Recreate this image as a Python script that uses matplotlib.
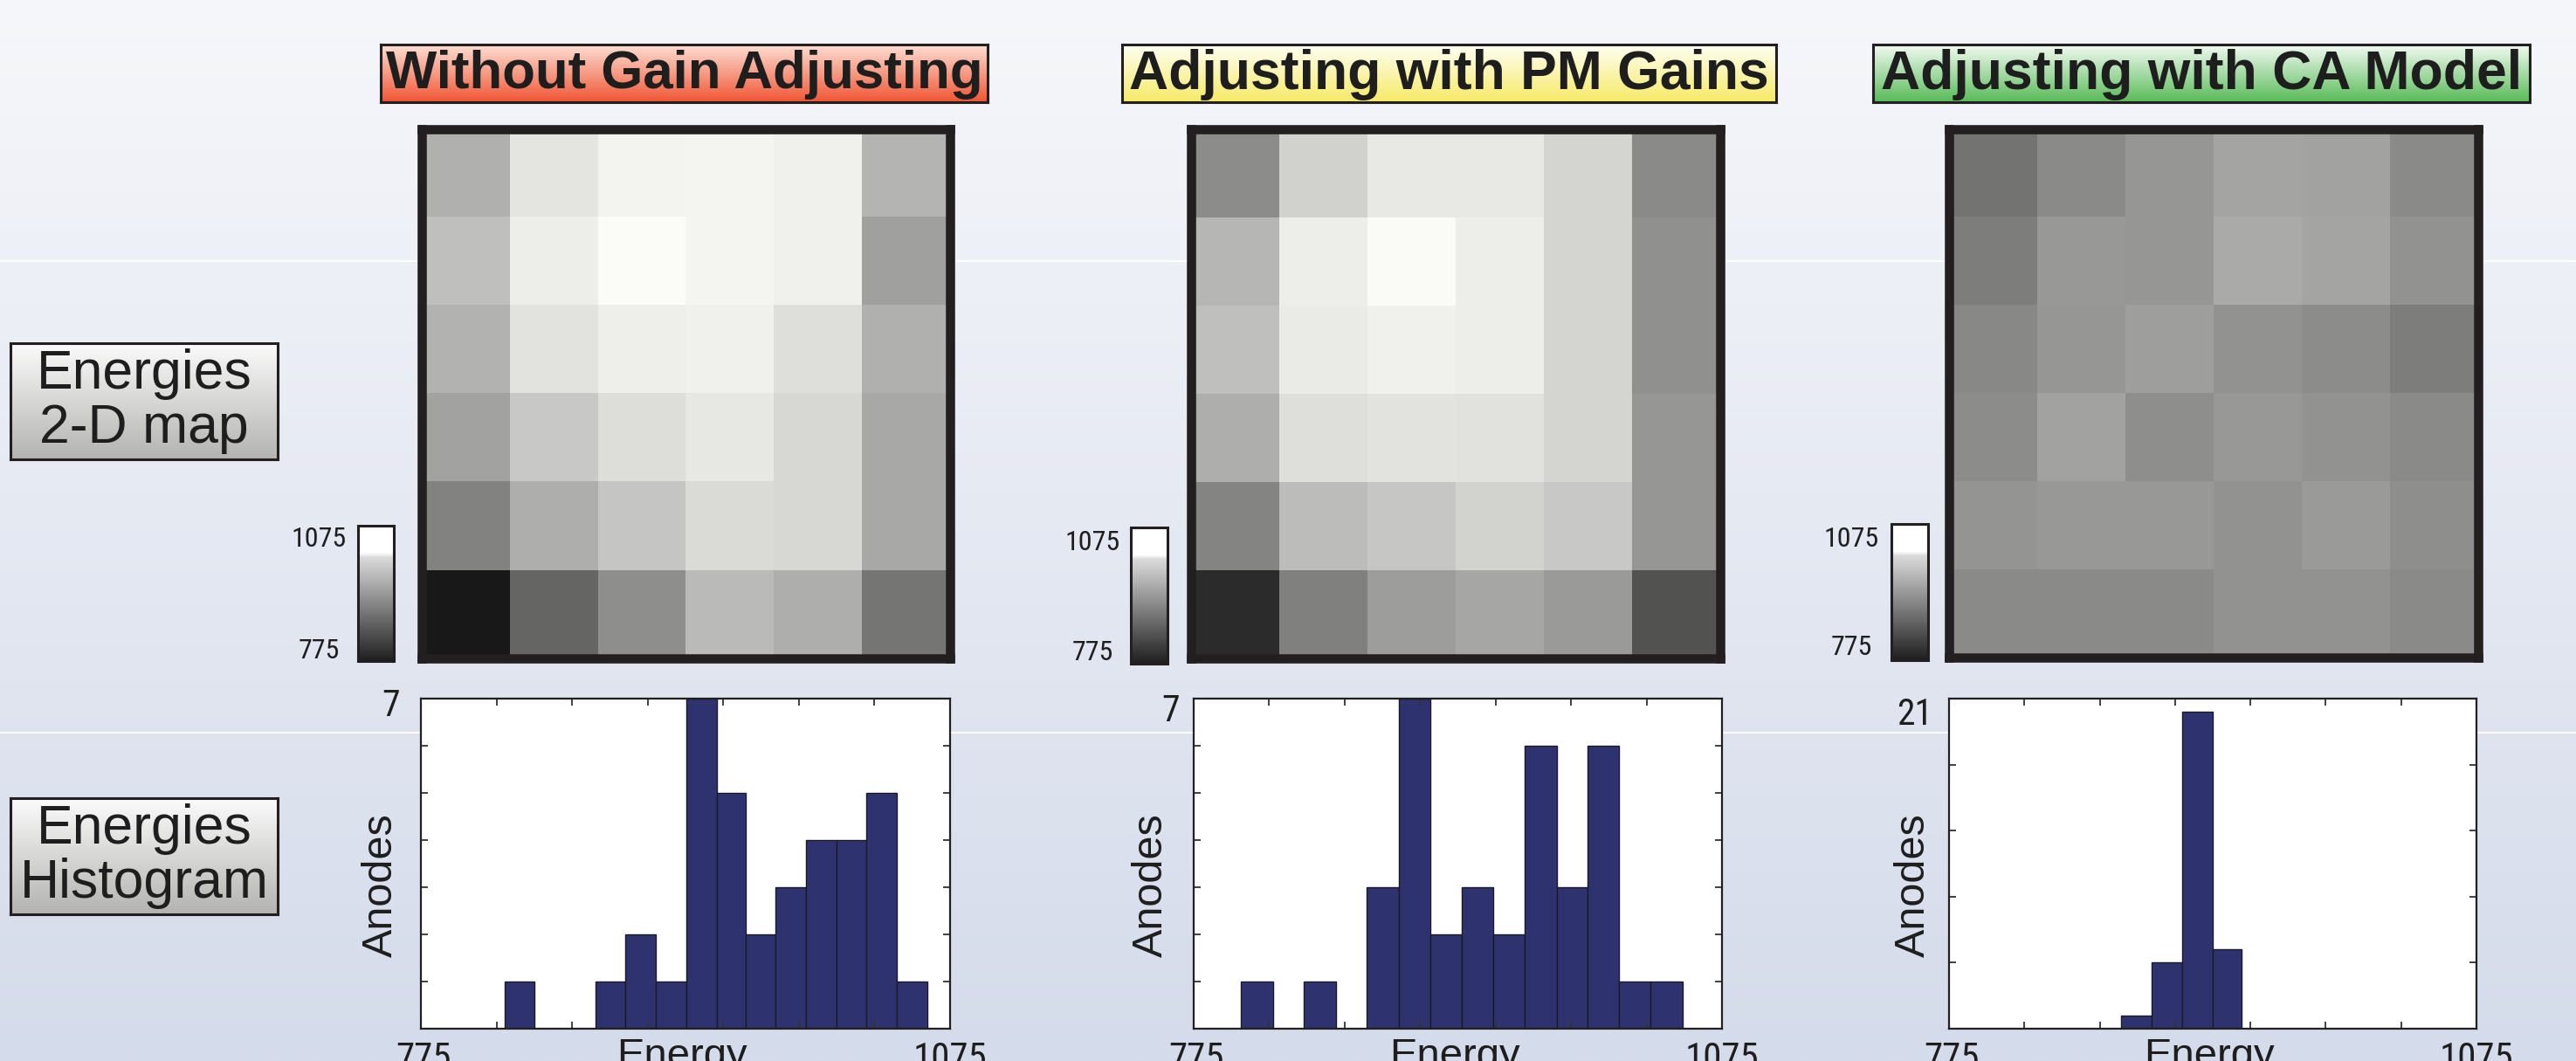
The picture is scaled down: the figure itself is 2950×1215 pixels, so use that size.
import numpy as np
import matplotlib
matplotlib.use("Agg")
import matplotlib.pyplot as plt
import matplotlib.colors as mcolors
from matplotlib import cm
from matplotlib import font_manager as fm

# ---------------- data ----------------
panel_titles = ["Without Gain Adjusting", "Adjusting with PM Gains", "Adjusting with CA Model"]
row_labels = ["Energies\n2-D map", "Energies\nHistogram"]
energy_min, energy_max = 775, 1075
energy_tick_labels = ["775", "1075"]
x_label = "Energy"
y_label = "Anodes"

# 6x6 anode energies (rows top to bottom)
map_without = [
    [982, 1043, 1060, 1062, 1057, 987],
    [999, 1053, 1070, 1062, 1057, 963],
    [984, 1041, 1055, 1057, 1036, 982],
    [966, 1010, 1034, 1046, 1027, 973],
    [928, 980, 1006, 1031, 1027, 973],
    [801, 893, 942, 994, 980, 911],
]
map_pm = [
    [940, 1020, 1048, 1048, 1024, 937],
    [989, 1053, 1069, 1053, 1024, 944],
    [999, 1050, 1057, 1053, 1024, 944],
    [980, 1036, 1041, 1039, 1024, 951],
    [930, 996, 1008, 1022, 1010, 951],
    [824, 926, 959, 970, 956, 871],
]
map_ca = [
    [909, 937, 951, 968, 966, 937],
    [921, 954, 951, 975, 968, 947],
    [935, 951, 961, 947, 940, 921],
    [940, 966, 942, 954, 947, 937],
    [949, 954, 954, 947, 956, 942],
    [937, 937, 937, 947, 947, 937],
]

# histogram bins (edges) and counts
hist_without_edges = [822.5, 839.6, 856.7, 873.8, 890.8, 908.2, 925.6, 942.6, 959.4,
                      976.2, 993.3, 1010.7, 1027.7, 1044.8, 1061.9]
hist_without_counts = [1, 0, 0, 1, 2, 1, 7, 5, 2, 3, 4, 4, 5, 1]
hist_pm_edges = [802.0, 819.9, 837.6, 855.8, 873.4, 891.4, 909.6, 927.2, 944.9,
                 962.8, 981.1, 998.7, 1016.4, 1034.3, 1052.5]
hist_pm_counts = [1, 0, 1, 0, 3, 7, 2, 3, 2, 6, 3, 6, 1, 1]
hist_ca_edges = [872.9, 890.0, 907.4, 925.0, 941.5]
hist_ca_counts = [1, 5, 24, 6]

hist_ymax = [7, 7, 25]
hist_ystep = [1, 1, 5]
hist_top_label = ["7", "7", "21"]

# ---------------- fonts ----------------
DARK = "#231f20"
REG = ["Liberation Sans", "DejaVu Sans"]


def pick_narrow():
    ttf = fm.fontManager.ttflist
    names = {f.name for f in ttf}
    for cand in ["Liberation Sans Narrow", "Arial Narrow", "Roboto Condensed",
                 "Open Sans Condensed", "Noto Sans Condensed"]:
        if cand in names:
            return fm.FontProperties(family=cand), True
    cands = []
    for f in ttf:
        base = f.fname.split("/")[-1].lower()
        if ("condensed" in base or "narrow" in base) and not any(
                k in base for k in ("bold", "italic", "oblique", "light", "thin", "black",
                                    "medium", "semi")):
            cands.append(f.fname)
    if cands:
        pref = sorted(cands, key=lambda p: (0 if "liberation" in p.lower() else
                                            1 if "roboto" in p.lower() else
                                            2 if "noto" in p.lower() else 3))
        return fm.FontProperties(fname=pref[0]), True
    return fm.FontProperties(family=REG), False


NARROW_FP, HAS_NARROW = pick_narrow()
NSCALE = 1.0 if HAS_NARROW else 0.86


def narrow(size):
    fp = NARROW_FP.copy()
    fp.set_size(size * NSCALE)
    return fp

# ---------------- layout helpers ----------------
W, H = 2950, 1215
fig = plt.figure(figsize=(W / 100, H / 100), dpi=100)


def rect(x0, y0, x1, y1):
    return [x0 / W, 1 - y1 / H, (x1 - x0) / W, (y1 - y0) / H]


def fx(x):
    return x / W


def fy(y):
    return 1 - y / H

# background gradient
bg = fig.add_axes([0, 0, 1, 1], zorder=-10)
t = np.linspace(0, 1, 512)[:, None, None]
top_c = np.array([246, 247, 251]) / 255
bot_c = np.array([212, 219, 234]) / 255
bg.imshow(top_c * (1 - t) + bot_c * t, aspect="auto", extent=(0, 1, 0, 1), origin="upper")
for yy in (299, 839):
    bg.axhline(fy(yy), color="white", lw=1.5, alpha=0.9)
bg.set_xlim(0, 1)
bg.set_ylim(0, 1)
bg.axis("off")


def grad_box(r, c_top, c_bot, text, fontsize, weight, family, linespacing=1.2, ty=0.5):
    ax = fig.add_axes(r)
    g = np.linspace(0, 1, 256)[:, None, None]
    a = np.array(mcolors.to_rgb(c_top))
    b = np.array(mcolors.to_rgb(c_bot))
    ax.imshow(a * (1 - g) + b * g, aspect="auto", extent=(0, 1, 0, 1), origin="upper")
    ax.set_xlim(0, 1)
    ax.set_ylim(0, 1)
    ax.set_xticks([])
    ax.set_yticks([])
    for s in ax.spines.values():
        s.set_linewidth(2.2)
        s.set_color(DARK)
    ax.text(0.5, ty, text, ha="center", va="center", fontsize=fontsize, fontweight=weight,
            family=family, color="#1e1e1e", linespacing=linespacing)
    return ax

# title boxes
title_boxes = [(436, 51, 1131, 117), (1285, 51, 2034, 117), (2145, 51, 2897, 117)]
title_grads = [("#fcdfd3", "#f05533"), ("#fffff4", "#f6ea66"), ("#f2faf2", "#58bb58")]
title_sizes = [44.5, 45, 45]
for bx, gc, txt, fs in zip(title_boxes, title_grads, panel_titles, title_sizes):
    grad_box(rect(*bx), gc[0], gc[1], txt, fs, "bold", REG, ty=0.48)

# row label boxes
grad_box(rect(12, 393, 318, 526), "#fbfbfb", "#b3b3b1", row_labels[0], 45, "normal", REG,
         linespacing=1.05)
grad_box(rect(12, 914, 318, 1047), "#fbfbfb", "#b3b3b1", row_labels[1], 45, "normal", REG,
         linespacing=1.05)

# heatmaps
map_cmap = mcolors.LinearSegmentedColormap.from_list("mapgray", ["#020302", "#fffffc"])
maps = [map_without, map_pm, map_ca]
map_rects = [(483, 147.5, 1088, 754), (1364, 148, 1970, 754), (2232, 147.5, 2838, 753)]
for m, r in zip(maps, map_rects):
    ax = fig.add_axes(rect(*r))
    ax.imshow(np.array(m, dtype=float), cmap=map_cmap, vmin=energy_min, vmax=energy_max,
              interpolation="nearest", aspect="auto")
    ax.set_xticks([])
    ax.set_yticks([])
    for s in ax.spines.values():
        s.set_linewidth(7.6)
        s.set_color(DARK)

# colorbars
cb_cmap = mcolors.LinearSegmentedColormap.from_list(
    "cbgray", [(0.0, (0.12, 0.12, 0.12)), (0.77, (0.86, 0.86, 0.86)),
               (0.80, (1, 1, 1)), (1.0, (1, 1, 1))])
cb_rects = [(410, 602, 451, 757), (1295, 604, 1337, 760), (2166, 600, 2208, 756)]
cb_label_x = [365, 1251, 2120]
cb_label_y = [(618, 745), (621, 747), (617, 742)]
norm = mcolors.Normalize(energy_min, energy_max)
for r, lx, (ly1, ly0) in zip(cb_rects, cb_label_x, cb_label_y):
    cax = fig.add_axes(rect(*r))
    cbar = fig.colorbar(cm.ScalarMappable(norm=norm, cmap=cb_cmap), cax=cax)
    cbar.set_ticks([])
    cbar.outline.set_linewidth(2.2)
    cbar.outline.set_edgecolor(DARK)
    fig.text(fx(lx), fy(ly1), energy_tick_labels[1], ha="center", va="center",
             fontproperties=narrow(23), color="#1e1e1e")
    fig.text(fx(lx), fy(ly0), energy_tick_labels[0], ha="center", va="center",
             fontproperties=narrow(23), color="#1e1e1e")

# histograms
hists = [(hist_without_edges, hist_without_counts), (hist_pm_edges, hist_pm_counts),
         (hist_ca_edges, hist_ca_counts)]
hist_rects = [(482, 800, 1088, 1178), (1367, 800, 1972, 1178), (2232, 800, 2836, 1178)]
top_label_pos = [(448, 808), (1341, 814), (2193, 819)]
anodes_x = [436, 1318, 2191]
for (edges, counts), r, ymax, ystep, tl, tlp, axx in zip(
        hists, hist_rects, hist_ymax, hist_ystep, hist_top_label, top_label_pos, anodes_x):
    ax = fig.add_axes(rect(*r))
    ax.set_facecolor("white")
    e = np.array(edges)
    ax.bar(e[:-1], counts, width=np.diff(e), align="edge", color="#2e3370",
           edgecolor="#1a1a26", linewidth=1.0)
    ax.set_xlim(energy_min, energy_max)
    ax.set_ylim(0, ymax)
    ax.set_xticks(np.linspace(energy_min, energy_max, 8))
    ax.set_yticks(np.arange(0, ymax + 0.1, ystep))
    ax.tick_params(direction="in", top=True, right=True, length=6, width=1.3,
                   color="#333333", labelleft=False, labelbottom=False)
    for s in ax.spines.values():
        s.set_linewidth(1.6)
        s.set_color(DARK)
    x0, _, x1, _ = r
    fig.text(fx(x0 + 3), fy(1224), energy_tick_labels[0], ha="center", va="baseline",
             fontproperties=narrow(31), color="#1e1e1e")
    fig.text(fx(x1), fy(1224), energy_tick_labels[1], ha="center", va="baseline",
             fontproperties=narrow(31), color="#1e1e1e")
    fig.text(fx(tlp[0]), fy(tlp[1]), tl, ha="center", va="center",
             fontproperties=narrow(30), color="#1e1e1e")
    fig.text(fx((x0 + x1) / 2 - 4), fy(1222), x_label, ha="center", va="baseline",
             fontsize=34, family=REG, color="#1e1e1e")
    fig.text(fx(axx), fy(1014), y_label, ha="center", va="center", rotation=90,
             fontsize=35, family=REG, color="#1e1e1e")

fig.savefig("out.png", dpi=100)
